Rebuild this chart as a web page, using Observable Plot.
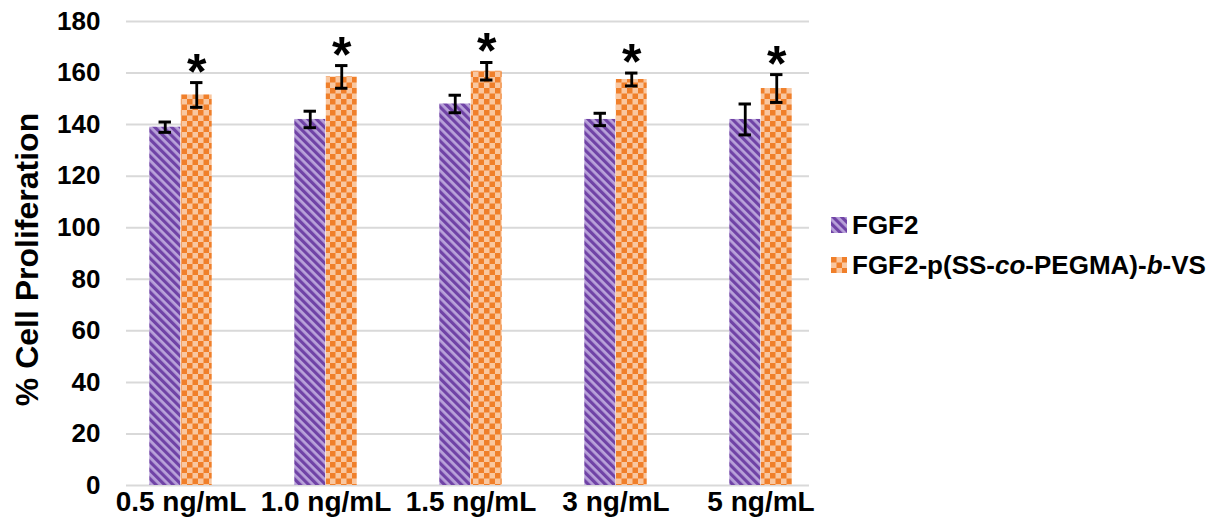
<!DOCTYPE html>
<html><head><meta charset="utf-8">
<script src="https://cdn.jsdelivr.net/npm/d3@7"></script>
<script src="https://cdn.jsdelivr.net/npm/@observablehq/plot@0.6"></script>
<style>
body{margin:0;background:#fff;font-family:"Liberation Sans",Arial,sans-serif;}
#wrap{position:relative;width:1222px;height:526px;overflow:hidden;}
#legend{position:absolute;left:831px;top:205px;font-weight:bold;font-size:26px;color:#000;line-height:1;}
.item{display:flex;align-items:center;height:40px;white-space:nowrap;}
.item svg{margin-right:5px;flex:none;}
</style></head><body>
<div id="wrap"><div id="chart"></div><div id="legend"></div></div>
<script>
const categories = ["0.5 ng/mL", "1.0 ng/mL", "1.5 ng/mL", "3 ng/mL", "5 ng/mL"];
const seriesNames = ["FGF2", "FGF2-p(SS-co-PEGMA)-b-VS"];
const fgf2Values = [139, 142, 148, 142, 142];
const fgf2Errors = [2, 3.2, 3.4, 2.4, 6];
const conjValues = [151.5, 158.5, 160.7, 157.5, 154];
const conjErrors = [4.8, 4.4, 3.4, 2.5, 5.4];
const significance = ["*", "*", "*", "*", "*"];
const yTicks = [0, 20, 40, 60, 80, 100, 120, 140, 160, 180];

const rows1 = categories.map((c, i) => ({category: c, value: fgf2Values[i], err: fgf2Errors[i]}));
const rows2 = categories.map((c, i) => ({category: c, value: conjValues[i], err: conjErrors[i], sig: significance[i]}));

const bandRange = [106, 834];
const step = (bandRange[1] - bandRange[0]) / categories.length;
const half = step / 2;
const barW = 31.5;
const capHalf = 6.5;

const chart = Plot.plot({
  width: 830, height: 526,
  marginLeft: 126, marginRight: 21, marginTop: 21, marginBottom: 41,
  style: {fontFamily: '"Liberation Sans", Arial, sans-serif', color: "#000", background: "#fff", overflow: "visible"},
  x: {type: "band", domain: categories, range: bandRange, padding: 0},
  y: {domain: [0, 180]},
  marks: [
    Plot.gridY(yTicks, {stroke: "#d9d9d9", strokeOpacity: 1, strokeWidth: 2}),
    Plot.barY(rows1, {x: "category", y: "value", fill: "url(#purpleStripes)", insetLeft: half - barW, insetRight: half}),
    Plot.barY(rows2, {x: "category", y: "value", fill: "url(#orangeChecks)", insetLeft: half, insetRight: half - barW}),
    Plot.ruleX(rows1, {x: "category", y1: d => d.value - d.err, y2: d => d.value + d.err, dx: -barW / 2, stroke: "#000", strokeWidth: 2.8}),
    Plot.ruleX(rows2, {x: "category", y1: d => d.value - d.err, y2: d => d.value + d.err, dx: barW / 2, stroke: "#000", strokeWidth: 2.8}),
    Plot.tickY(rows1, {x: "category", y: d => d.value + d.err, dx: -barW / 2, insetLeft: half - capHalf, insetRight: half - capHalf, stroke: "#000", strokeWidth: 3}),
    Plot.tickY(rows1, {x: "category", y: d => d.value - d.err, dx: -barW / 2, insetLeft: half - capHalf, insetRight: half - capHalf, stroke: "#000", strokeWidth: 3}),
    Plot.tickY(rows2, {x: "category", y: d => d.value + d.err, dx: barW / 2, insetLeft: half - capHalf, insetRight: half - capHalf, stroke: "#000", strokeWidth: 3}),
    Plot.tickY(rows2, {x: "category", y: d => d.value - d.err, dx: barW / 2, insetLeft: half - capHalf, insetRight: half - capHalf, stroke: "#000", strokeWidth: 3}),
    Plot.text(rows2, {x: "category", y: d => d.value + d.err, text: "sig", dx: barW / 2, dy: -10, fontSize: 50, fontWeight: "bold", fill: "#000"}),
    Plot.axisY(yTicks, {tickSize: 0, tickPadding: 26, fontSize: 26, fontWeight: "bold", label: null}),
    Plot.axisX({tickSize: 0, tickPadding: 6, fontSize: 28, fontWeight: "bold", label: null}),
    Plot.text(["% Cell Proliferation"], {frameAnchor: "left", textAnchor: "middle", rotate: -90, dx: -99, dy: 6, fontSize: 32, fontWeight: "bold", fill: "#000"})
  ]
});

const defs = d3.select(chart).insert("defs", ":first-child");
const ps = defs.append("pattern").attr("id", "purpleStripes").attr("patternUnits", "userSpaceOnUse")
  .attr("width", 6).attr("height", 6).attr("patternTransform", "rotate(-45)");
ps.append("rect").attr("width", 6).attr("height", 6).attr("fill", "#b9a2da");
ps.append("rect").attr("width", 3.2).attr("height", 6).attr("fill", "#7043a6");
const pc = defs.append("pattern").attr("id", "orangeChecks").attr("patternUnits", "userSpaceOnUse")
  .attr("width", 11).attr("height", 11);
pc.append("rect").attr("width", 11).attr("height", 11).attr("fill", "#f9c7a0");
pc.append("rect").attr("width", 5.5).attr("height", 5.5).attr("fill", "#f07f2a");
pc.append("rect").attr("x", 5.5).attr("y", 5.5).attr("width", 5.5).attr("height", 5.5).attr("fill", "#f07f2a");

document.getElementById("chart").appendChild(chart);

const legend = document.getElementById("legend");
const labelsHtml = ["FGF2", "FGF2-p(SS-<i>co</i>-PEGMA)-<i>b</i>-VS"];
const fills = ["url(#purpleStripes)", "url(#orangeChecks)"];
seriesNames.forEach((name, i) => {
  const item = document.createElement("div");
  item.className = "item";
  item.innerHTML = `<svg width="16" height="16"><rect width="16" height="16" fill="${fills[i]}"></rect></svg><span title="${name}">${labelsHtml[i]}</span>`;
  legend.appendChild(item);
});
</script>
</body></html>
